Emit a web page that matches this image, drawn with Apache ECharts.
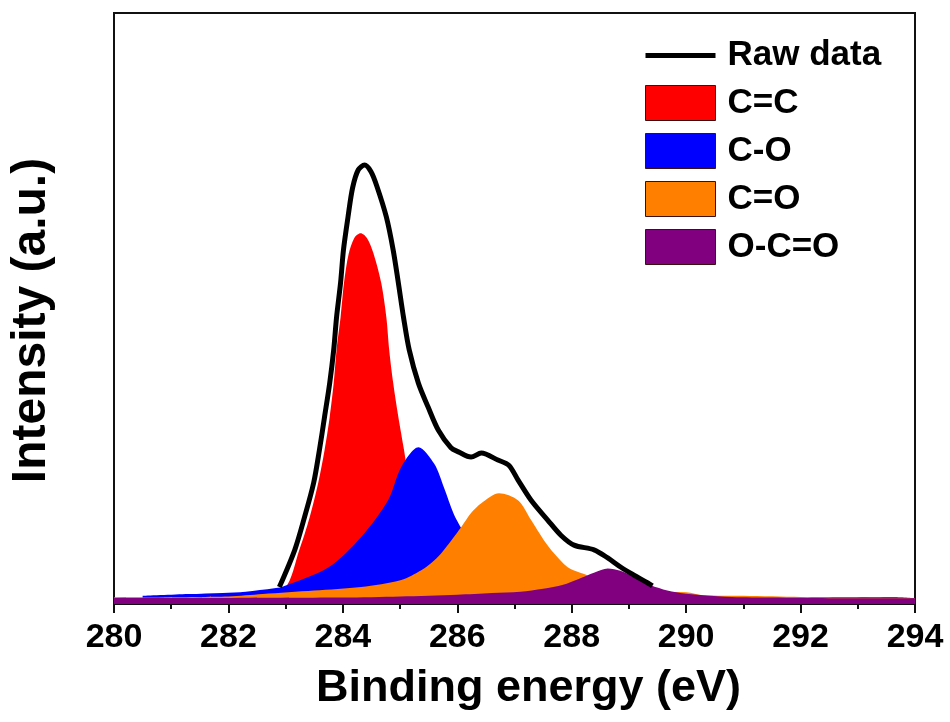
<!DOCTYPE html>
<html>
<head>
<meta charset="utf-8">
<title>C1s XPS</title>
<script src="https://cdn.jsdelivr.net/npm/echarts@6/dist/echarts.min.js"></script>
<style>
    html, body { margin: 0; padding: 0; background: #fff; }
    #chart { width: 950px; height: 722px; }
</style>
</head>
<body>
<div id="chart"></div>
<script>
// x 轴刻度
const xTicks = [280, 282, 284, 286, 288, 290, 292, 294];

// 原始数据 [结合能 eV, 强度]
const rawData = [
    [282.89, 2.9], [283.16, 9.3], [283.33, 14.9], [283.49, 20.8], [283.59, 26.4],
    [283.68, 32.1], [283.77, 37.9], [283.84, 43.6], [283.89, 49.2], [283.96, 55.1],
    [284.01, 60.7], [284.09, 66.4], [284.17, 71.4], [284.27, 74.5], [284.38, 75.3],
    [284.49, 74.2], [284.59, 71.8], [284.76, 66.4], [284.88, 60.7], [284.97, 55.1],
    [285.06, 49.2], [285.16, 43.6], [285.32, 37.9], [285.49, 33.8], [285.67, 29.8],
    [285.89, 26.8], [286.02, 26.1], [286.24, 25.2], [286.42, 25.9], [286.71, 24.7],
    [286.90, 23.8], [287.06, 21.3], [287.29, 17.8], [287.58, 14.4], [287.81, 11.8],
    [288.04, 10.1], [288.39, 9.3], [288.63, 7.9], [288.86, 6.3], [289.08, 5.0],
    [289.33, 3.6], [289.41, 3.1]
];

// C=C
const ccData = [
    [280, 1.1], [281, 1.1], [282, 1.2], [282.5, 1.5], [282.98, 2.6], [283.24, 9.3],
    [283.42, 14.9], [283.57, 20.8], [283.68, 26.4], [283.77, 32.1], [283.84, 37.9],
    [283.89, 43.6], [283.96, 49.2], [284.02, 55.1], [284.10, 60.0], [284.20, 62.8],
    [284.31, 63.6], [284.42, 62.8], [284.53, 60.3], [284.67, 55.1], [284.76, 49.2],
    [284.81, 43.6], [284.88, 37.9], [284.97, 32.1], [285.07, 26.4], [285.16, 20.8],
    [285.30, 14.9], [285.51, 9.3], [285.80, 4.0], [286.2, 1.8], [287, 1.3], [289, 1.2],
    [293.6, 1.2], [294, 1.0]
];

// C-O
const coData = [
    [280.5, 1.4], [281.3, 1.7], [281.9, 1.9], [282.3, 2.1], [282.8, 2.7], [282.93, 2.9],
    [283.75, 6.3], [284.32, 11.5], [284.79, 17.8], [285.02, 23.5], [285.32, 26.9],
    [285.60, 24.0], [285.77, 19.9], [285.94, 15.4], [286.07, 13.0], [286.3, 9.0],
    [286.6, 6.0], [287.0, 4.0], [287.5, 2.8], [288, 2.2], [289, 1.6], [290, 1.3],
    [292, 1.1], [294, 1.0]
];

// C=O
const cDoubleOData = [
    [280, 1.1], [282, 1.3], [282.6, 1.7], [283.5, 2.3], [284.32, 2.9], [285.02, 4.1],
    [285.37, 5.8], [285.54, 7.0], [285.72, 8.7], [286.07, 13.2], [286.24, 15.6],
    [286.42, 17.3], [286.73, 19.0], [287.06, 17.8], [287.29, 14.4], [287.51, 11.0],
    [287.69, 8.7], [287.93, 6.3], [288.16, 5.3], [288.25, 5.0], [288.6, 3.5],
    [289, 2.6], [289.5, 2.1], [290, 2.0], [290.3, 1.5], [291, 1.4], [292, 1.2], [294, 1.0]
];

// O-C=O
const ocoData = [
    [280, 1.0], [284, 1.1], [285, 1.3], [286, 1.6], [286.6, 1.9], [287.1, 2.1],
    [287.5, 2.6], [287.85, 3.3], [288.1, 4.2], [288.4, 5.4], [288.63, 6.1],
    [288.85, 5.7], [289.08, 4.7], [289.3, 3.5], [289.6, 2.5], [289.9, 1.9],
    [290.3, 1.5], [290.8, 1.2], [291.5, 1.1], [292.5, 1.0], [294, 1.0]
];

const peakNames = ['C=C', 'C-O', 'C=O', 'O-C=O'];
const peakColors = ['#ff0000', '#0000ff', '#ff8000', '#800080'];
const peakData = [ccData, coData, cDoubleOData, ocoData];

(function () {
    let myChart = echarts.init(document.getElementById('chart'));
    const font = 'Arial, "Liberation Sans", sans-serif';

    // 拟合峰：填充面积，后画的盖在前面
    let peakSeries = peakNames.map(function (name, i) {
        return {
            name: name,
            type: 'line',
            data: peakData[i],
            smooth: 0.3,
            symbol: 'none',
            lineStyle: { width: 0 },
            itemStyle: { color: peakColors[i] },
            areaStyle: { color: peakColors[i], opacity: 1 }
        };
    });

    let option = {
        animation: false,
        backgroundColor: '#fff',
        grid: {
            left: 112,
            right: 35,
            top: 13,
            bottom: 118,
            show: true,
            borderColor: '#111',
            borderWidth: 2
        },
        legend: {
            orient: 'vertical',
            left: 643,
            top: 38,
            padding: 0,
            itemWidth: 70,
            itemHeight: 35,
            itemGap: 12,
            textStyle: { fontFamily: font, fontWeight: 'bold', fontSize: 35, color: '#000', padding: [0, 0, 0, 7] },
            data: [{
                name: 'Raw data',
                // 图例里只要线，不要圆点
                itemStyle: { color: 'rgba(0,0,0,0)', borderWidth: 0 },
                lineStyle: { color: '#000', width: 5 }
            }].concat(peakNames.map(function (n) {
                return { name: n, icon: 'rect', itemStyle: { borderColor: '#3a1010', borderWidth: 1 } };
            }))
        },
        xAxis: {
            type: 'value',
            min: xTicks[0],
            max: xTicks[xTicks.length - 1],
            interval: 2,
            name: 'Binding energy (eV)',
            nameLocation: 'middle',
            nameGap: 62,
            nameTextStyle: { fontFamily: font, fontWeight: 'bold', fontSize: 45, color: '#000', padding: [0, 0, 0, 28] },
            axisLine: { lineStyle: { color: '#111', width: 2 } },
            axisTick: { inside: false, length: 9, lineStyle: { color: '#111', width: 2 } },
            minorTick: { show: true, splitNumber: 2, length: 5, lineStyle: { color: '#111', width: 2 } },
            axisLabel: { fontFamily: font, fontWeight: 'bold', fontSize: 34, color: '#000', margin: 17 },
            splitLine: { show: false }
        },
        yAxis: {
            type: 'value',
            min: 0,
            max: 101.4,
            name: 'Intensity (a.u.)',
            nameLocation: 'middle',
            nameGap: 58,
            nameTextStyle: { fontFamily: font, fontWeight: 'bold', fontSize: 48, color: '#000', padding: [0, 24, 0, 0] },
            axisLine: { show: true, lineStyle: { color: '#111', width: 2 } },
            axisTick: { show: false },
            axisLabel: { show: false },
            splitLine: { show: false }
        },
        series: peakSeries.concat([{
            name: 'Raw data',
            type: 'line',
            data: rawData,
            smooth: 0.3,
            symbol: 'none',
            z: 5,
            itemStyle: { color: '#000' },
            lineStyle: { color: '#000', width: 5 }
        }])
    };

    myChart.setOption(option);

    window.addEventListener('resize', function () {
        myChart.resize();
    });
})();
</script>
</body>
</html>
